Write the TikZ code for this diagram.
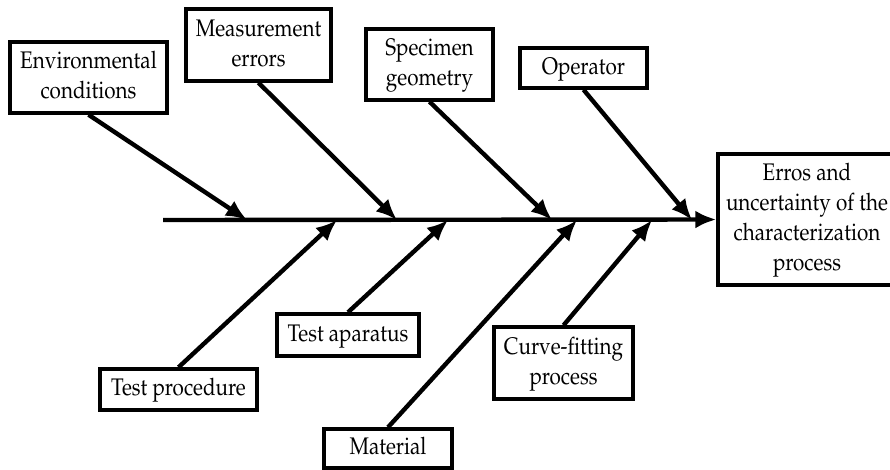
\documentclass[tikz,border=0pt]{standalone}
\usepackage[T1]{fontenc}
\usepackage{mathpazo}
\usetikzlibrary{arrows.meta}
\newcommand{\cond}[1]{\scalebox{0.86}[1]{\begin{tabular}{@{}c@{}}#1\end{tabular}}}
\tikzset{
  box/.style={draw, line width=3.4pt, align=center, inner sep=0pt,
    font=\fontsize{24}{30}\selectfont},
  bone/.style={line width=4.4pt, -{Latex[length=21pt,width=18pt]}},
}
\begin{document}
\begin{tikzpicture}[x=1pt,y=-1pt]
\clip (0,0) rectangle (890,469);
\node[box, minimum width=157pt, minimum height=71pt] (env) at (88.5,77.5) {\cond{Environmental\\conditions}};
\node[box, minimum width=145pt, minimum height=72pt] (meas) at (258.5,45) {\cond{Measurement\\errors}};
\node[box, minimum width=127pt, minimum height=71pt] (spec) at (429.5,64.5) {\cond{Specimen\\geometry}};
\node[box, minimum width=127pt, minimum height=40pt] (oper) at (583.5,68) {\cond{Operator}};
\node[box, minimum width=178pt, minimum height=131pt] (eff) at (807,219.5) {\cond{Erros and\\uncertainty of the\\characterization\\process}};
\node[box, minimum width=157pt, minimum height=41pt] (tproc) at (178.5,389.5) {\cond{Test procedure}};
\node[box, minimum width=142pt, minimum height=42pt] (tapp) at (348,335) {\cond{Test aparatus}};
\node[box, minimum width=128pt, minimum height=39pt] (mat) at (388,448.5) {\cond{Material}};
\node[box, minimum width=139pt, minimum height=72pt] (curve) at (563.5,363) {\cond{Curve-fitting\\process}};
\coordinate (s0) at (163,220);
\coordinate (t1) at (247,220);
\coordinate (t2) at (397,220);
\coordinate (t3) at (552,220);
\coordinate (t4) at (692,220);
\coordinate (b1) at (337,220);
\coordinate (b2) at (448,220);
\coordinate (b3) at (577,220);
\coordinate (b4) at (652,220);
\draw[bone] (s0) -- (eff.west);
\draw[bone] (env.south) -- (t1);
\draw[bone] (meas.south) -- (t2);
\draw[bone] (spec.south) -- (t3);
\draw[bone] (oper.south) -- (t4);
\draw[bone] (tproc.north) -- (b1);
\draw[bone] (tapp.north) -- (b2);
\draw[bone] (mat.north) -- (b3);
\draw[bone] (curve.north) -- (b4);
\end{tikzpicture}
\end{document}
